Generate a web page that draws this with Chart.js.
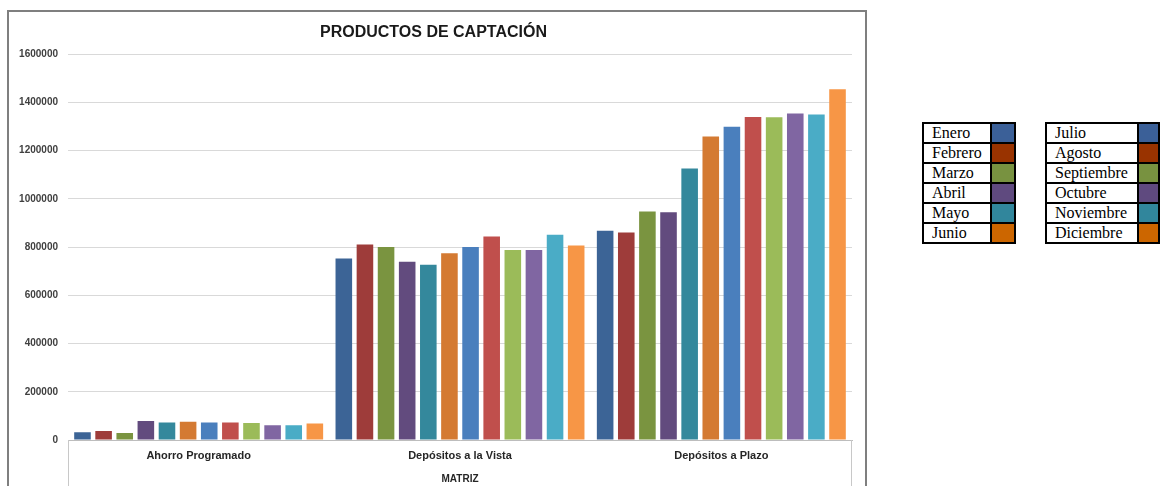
<!DOCTYPE html>
<html>
<head>
<meta charset="utf-8">
<script src="https://cdn.jsdelivr.net/npm/chart.js@4"></script>
<style>
  body { margin: 0; background: #fff; width: 1160px; height: 486px; overflow: hidden; position: relative; }
  #marco { position: absolute; left: 7px; top: 10px; width: 860px; height: 480px; border: 2px solid #7f7f7f; box-sizing: border-box; }
  #caja { position: absolute; left: 9px; top: 12px; width: 855px; height: 474px; }
  table.leyenda { position: absolute; border-collapse: collapse; font-family: "Liberation Serif", "Times New Roman", serif; font-size: 16px; }
  table.leyenda td { border: 2px solid #000; height: 18px; padding: 0 0 0 8px; line-height: 16px; }
  table.leyenda td.color { padding: 0; }
</style>
</head>
<body>
<div id="marco"></div>
<div id="caja"><canvas id="grafico"></canvas></div>
<table class="leyenda" id="ley1" style="left:922px; top:122px;"></table>
<table class="leyenda" id="ley2" style="left:1045px; top:122px;"></table>
<script>
const categorias = ['Ahorro Programado', 'Depósitos a la Vista', 'Depósitos a Plazo'];
const meses = ['Enero', 'Febrero', 'Marzo', 'Abril', 'Mayo', 'Junio',
  'Julio', 'Agosto', 'Septiembre', 'Octubre', 'Noviembre', 'Diciembre'];

// valores por mes: [Ahorro Programado, Depósitos a la Vista, Depósitos a Plazo]
const enero      = [32000, 753000, 868000];
const febrero    = [37000, 811000, 861000];
const marzo      = [29000, 800000, 948000];
const abril      = [79000, 739000, 945000];
const mayo       = [73000, 727000, 1126000];
const junio      = [76000, 774000, 1259000];
const julio      = [73000, 800000, 1299000];
const agosto     = [73000, 844000, 1340000];
const septiembre = [70000, 788000, 1338000];
const octubre    = [61000, 788000, 1354000];
const noviembre  = [61000, 851000, 1350000];
const diciembre  = [68000, 807000, 1455000];

const valores = [enero, febrero, marzo, abril, mayo, junio,
  julio, agosto, septiembre, octubre, noviembre, diciembre];

const coloresBarra = ['#3c6496', '#9e3c3a', '#7a9440', '#624b7e', '#34889c', '#d47a32',
  '#4a7fbd', '#c04f4c', '#9bbb59', '#8066a2', '#4aacc6', '#f79646'];
const coloresLeyenda = ['#3b6098', '#993300', '#789240', '#5f4a7f', '#31869c', '#cc6600'];

const marcasY = [0, 200000, 400000, 600000, 800000, 1000000, 1200000, 1400000, 1600000];

// leyenda como tablas
function armarLeyenda(id, desde) {
  const tabla = document.getElementById(id);
  for (let i = 0; i < 6; i++) {
    const fila = document.createElement('tr');
    fila.innerHTML = `<td style="width:${id === 'ley1' ? 58 : 82}px">${meses[desde + i]}</td>
      <td class="color" style="width:${id === 'ley1' ? 22 : 20}px; background:${coloresLeyenda[i]}"></td>`;
    tabla.appendChild(fila);
  }
}
armarLeyenda('ley1', 0);
armarLeyenda('ley2', 6);

// lineas verticales de la caja del eje de categorias
const cajaEje = {
  id: 'cajaEje',
  afterDraw(chart) {
    const { ctx, chartArea } = chart;
    ctx.save();
    ctx.strokeStyle = '#c8c8c8';
    ctx.lineWidth = 1;
    ctx.beginPath();
    ctx.moveTo(chartArea.left + 0.5, chartArea.bottom);
    ctx.lineTo(chartArea.left + 0.5, chart.height);
    ctx.moveTo(chartArea.right - 0.5, chartArea.bottom);
    ctx.lineTo(chartArea.right - 0.5, chart.height);
    ctx.stroke();
    ctx.restore();
  }
};

const ctx = document.getElementById('grafico');
new Chart(ctx, {
  type: 'bar',
  data: {
    labels: categorias,
    datasets: meses.map((m, i) => ({
      label: m,
      data: valores[i],
      backgroundColor: coloresBarra[i],
      borderWidth: 0,
      categoryPercentage: 0.97,
      barPercentage: 0.785
    }))
  },
  options: {
    responsive: true,
    maintainAspectRatio: false,
    animation: false,
    layout: { padding: { left: 6, right: 12, top: 0, bottom: 0 } },
    plugins: {
      legend: { display: false },
      tooltip: { enabled: false },
      title: {
        display: true,
        text: 'PRODUCTOS DE CAPTACIÓN',
        color: '#1a1a1a',
        font: { family: 'Liberation Sans', size: 16, weight: 'bold' },
        padding: { top: 11, bottom: 12 }
      }
    },
    scales: {
      x: {
        grid: { display: false, drawTicks: false },
        border: { display: true, color: '#bdbdbd' },
        ticks: {
          color: '#262626',
          padding: 9,
          font: { family: 'Liberation Sans', size: 11, weight: 'bold' }
        },
        title: {
          display: true,
          text: 'MATRIZ',
          color: '#262626',
          padding: { top: 0, bottom: 1 },
          font: { family: 'Liberation Sans', size: 10, weight: 'bold' }
        },
        afterFit(scale) { scale.height = 46; }
      },
      y: {
        min: 0,
        max: 1600000,
        afterBuildTicks(scale) { scale.ticks = marcasY.map(v => ({ value: v })); },
        grid: { color: '#d9d9d9', drawTicks: false },
        border: { display: false },
        ticks: {
          color: '#404040',
          padding: 10,
          font: { family: 'Liberation Sans', size: 10, weight: 'bold' },
          callback: v => String(v)
        },
        afterFit(scale) { scale.width = 53; }
      }
    }
  },
  plugins: [cajaEje]
});
</script>
</body>
</html>
